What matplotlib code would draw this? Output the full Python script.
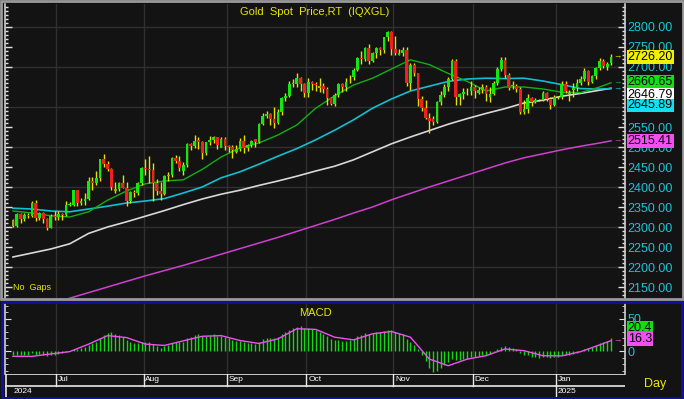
import numpy as np
import pandas as pd
import matplotlib
matplotlib.use("Agg")
import matplotlib.pyplot as plt
from matplotlib.patches import Rectangle

# ============================================================
# Data
# ============================================================

dates = pd.bdate_range("2024-06-13", "2025-01-21")

opens = [
    2318, 2303, 2332, 2319, 2330, 2328, 2360, 2322, 2334, 2319, 2298, 2327,
    2326, 2332, 2330, 2356, 2356, 2392, 2359, 2364, 2371, 2414, 2411, 2422,
    2469, 2458, 2445, 2390, 2396, 2409, 2397, 2364, 2387, 2384, 2410,
    2448, 2446, 2442, 2409, 2390, 2382, 2427, 2431, 2472, 2465, 2440, 2456,
    2507, 2503, 2518, 2512, 2484, 2512, 2518, 2524, 2498, 2521,
    2503, 2500, 2488, 2495, 2516, 2497, 2506, 2520, 2512, 2558, 2578, 2582,
    2569, 2559, 2587, 2622, 2628, 2660, 2657, 2672, 2658,
    2634, 2663, 2657, 2647, 2653, 2644, 2622, 2608, 2630, 2657, 2649, 2675,
    2674, 2693, 2722, 2720, 2748, 2716, 2735, 2747, 2743, 2774, 2788,
    2744, 2730, 2736, 2742, 2659, 2706, 2685, 2619, 2598, 2573, 2570, 2563,
    2612, 2631, 2651, 2670, 2715, 2626, 2633, 2639, 2639,
    2650, 2636, 2643, 2650, 2625, 2633, 2660, 2694, 2718, 2680, 2655, 2652,
    2646, 2588, 2594, 2622, 2612, 2617, 2617, 2634, 2621, 2606,
    2624, 2624, 2658, 2632, 2643, 2648, 2661, 2670, 2690, 2663, 2677, 2697,
    2714, 2700, 2709,
]
highs = [
    2320, 2336, 2334, 2334, 2336, 2365, 2368, 2337, 2337, 2322, 2332, 2339,
    2339, 2336, 2365, 2363, 2393, 2393, 2372, 2385, 2424, 2424, 2440, 2470,
    2483, 2464, 2447, 2412, 2412, 2431, 2413, 2390, 2393, 2412, 2451,
    2470, 2477, 2460, 2420, 2412, 2431, 2437, 2476, 2480, 2477, 2463, 2509,
    2511, 2531, 2526, 2514, 2513, 2527, 2528, 2526, 2524, 2525,
    2504, 2506, 2504, 2523, 2529, 2508, 2517, 2520, 2560, 2586, 2589, 2584,
    2600, 2596, 2625, 2634, 2664, 2670, 2685, 2675, 2660,
    2673, 2665, 2663, 2672, 2660, 2650, 2625, 2634, 2661, 2660, 2673, 2679,
    2697, 2725, 2740, 2749, 2758, 2738, 2750, 2750, 2775, 2790, 2790,
    2777, 2746, 2750, 2750, 2710, 2709, 2686, 2627, 2618, 2584, 2578,
    2615, 2639, 2657, 2674, 2721, 2721, 2636, 2647, 2648, 2665,
    2656, 2650, 2657, 2655, 2651, 2665, 2700, 2726, 2726, 2685, 2664, 2658,
    2651, 2617, 2632, 2626, 2622, 2620, 2639, 2638, 2625, 2630,
    2627, 2664, 2665, 2643, 2660, 2670, 2677, 2697, 2693, 2680, 2701, 2723,
    2720, 2712, 2733,
]
lows = [
    2300, 2300, 2311, 2314, 2323, 2326, 2316, 2318, 2310, 2293, 2297, 2318,
    2318, 2318, 2328, 2353, 2353, 2353, 2355, 2356, 2367, 2393, 2405, 2415,
    2450, 2440, 2393, 2384, 2390, 2398, 2353, 2360, 2376, 2380, 2406,
    2430, 2410, 2364, 2380, 2368, 2380, 2415, 2425, 2460, 2441, 2430, 2450,
    2492, 2497, 2495, 2470, 2480, 2506, 2510, 2495, 2500, 2492,
    2488, 2472, 2485, 2490, 2485, 2490, 2500, 2500, 2510, 2556, 2572, 2556,
    2547, 2557, 2580, 2614, 2625, 2650, 2650, 2640, 2625,
    2624, 2643, 2640, 2637, 2636, 2604, 2604, 2603, 2625, 2638, 2640, 2660,
    2668, 2690, 2708, 2716, 2708, 2712, 2722, 2730, 2736, 2764, 2731,
    2730, 2729, 2728, 2652, 2643, 2677, 2602, 2590, 2570, 2536, 2555,
    2560, 2604, 2625, 2640, 2668, 2605, 2605, 2619, 2630, 2630,
    2622, 2632, 2635, 2615, 2613, 2630, 2655, 2690, 2672, 2643, 2644, 2637,
    2583, 2583, 2584, 2602, 2610, 2615, 2614, 2616, 2596, 2603,
    2620, 2620, 2635, 2615, 2625, 2640, 2655, 2666, 2656, 2661, 2670, 2693,
    2697, 2693, 2705,
]
closes = [
    2303, 2332, 2319, 2330, 2328, 2360, 2322, 2334, 2319, 2298, 2327, 2326,
    2332, 2330, 2356, 2356, 2392, 2359, 2364, 2371, 2414, 2411, 2422, 2469,
    2458, 2445, 2400, 2396, 2409, 2397, 2364, 2387, 2384, 2410, 2447,
    2446, 2442, 2409, 2390, 2382, 2427, 2431, 2472, 2465, 2447, 2456, 2507,
    2503, 2514, 2512, 2484, 2512, 2518, 2524, 2504, 2521, 2503,
    2500, 2493, 2495, 2516, 2497, 2506, 2516, 2512, 2558, 2578, 2582, 2569,
    2559, 2587, 2622, 2628, 2657, 2657, 2672, 2658, 2634,
    2663, 2657, 2656, 2653, 2644, 2622, 2608, 2630, 2657, 2649, 2662, 2674,
    2693, 2722, 2720, 2748, 2716, 2735, 2747, 2743, 2774, 2788, 2744,
    2736, 2736, 2742, 2659, 2706, 2685, 2619, 2598, 2573, 2565, 2563,
    2612, 2631, 2651, 2670, 2715, 2626, 2633, 2638, 2639, 2650,
    2640, 2643, 2650, 2632, 2633, 2660, 2694, 2718, 2680, 2648, 2652, 2646,
    2588, 2594, 2622, 2612, 2617, 2617, 2634, 2621, 2606, 2624,
    2624, 2658, 2640, 2635, 2648, 2661, 2670, 2690, 2663, 2677, 2697, 2714,
    2702, 2708, 2726.2,
]

# moving averages and MACD signal, read once a week (Thursdays) + last day
knot_dates = list(pd.date_range("2024-06-13", "2025-01-16", freq="W-THU")) + [
    pd.Timestamp("2025-01-21")
]
ma_green = [
    2340, 2335, 2328, 2325, 2338, 2367, 2390, 2408, 2415, 2418, 2444, 2475,
    2498, 2510, 2530, 2555, 2597, 2628, 2655, 2672, 2695, 2718, 2706, 2684,
    2664, 2640, 2650, 2650, 2645, 2637, 2636, 2650, 2660.65,
]
ma_cyan = [
    2347, 2345, 2340, 2338, 2345, 2352, 2360, 2365, 2371, 2385, 2400, 2423,
    2438, 2457, 2477, 2496, 2518, 2542, 2568, 2597, 2620, 2640, 2652, 2664,
    2670, 2672, 2671, 2672, 2665, 2656, 2646, 2645, 2645.89,
]
ma_white = [
    2225, 2235, 2245, 2258, 2284, 2300, 2313, 2327, 2341, 2356, 2370, 2382,
    2392, 2404, 2415, 2427, 2440, 2452, 2468, 2488, 2508, 2525, 2541, 2557,
    2571, 2584, 2596, 2610, 2617, 2627, 2634, 2642, 2646.79,
]
ma_magenta = [
    2085, 2097, 2110, 2122, 2136, 2150, 2164, 2178, 2191, 2204, 2218, 2232,
    2246, 2260, 2274, 2289, 2304, 2319, 2335, 2350, 2368, 2384, 2400, 2415,
    2430, 2445, 2460, 2473, 2483, 2493, 2502, 2510, 2515.41,
]
macd_signal = [
    -7.7, -7.7, -4, -0.5, 11, 24, 21, 11, 9, 16, 23, 24,
    16.5, 12, 19, 34.5, 33.5, 21.6, 17.5, 26.8, 30.4, 21.6, -11.8, -22,
    -12, -6.7, 3.6, 1, -6.7, -7, -0.5, 9.8, 16.3,
]

macd = [
    -5, -5, -6, -5, -5, -3, -5, -4, -5, -7, -5, -5, -4,
    -3, -1, 0, 4, 4, 5, 6, 10, 12, 15, 21, 25, 28,
    29, 27, 25, 22, 17, 15, 13, 12, 14,
    15, 15, 11, 8, 5, 8, 9,
    13, 15, 14, 15, 20, 22, 25, 26, 23, 24, 25, 26, 24, 24, 22,
    20, 18, 16, 16, 14, 13, 12, 11,
    15, 19, 21, 21, 20, 22, 27, 29, 33, 35, 37, 38, 35,
    36, 34, 32, 30, 27, 23, 19, 18, 18, 16, 16, 17,
    19, 23, 25, 28, 27, 28, 29, 29, 31, 33, 32, 30, 28, 27,
    19, 15, 10, 4, -5, -15, -25, -32, -30, -25, -21, -17, -12, -14, -13,
    -12, -11, -9,
    -8, -7, -6, -6, -4, -1, 3, 7, 8, 6, 5, 3,
    -2, -5, -6, -8, -9, -10, -9, -9, -10, -9, -8, -5,
    -5, -5, -4, -2, 0, 3, 5, 6, 9, 13, 15, 16, 20.4,
]

MONTHS = ["Jul", "Aug", "Sep", "Oct", "Nov", "Dec", "Jan"]

# ============================================================
# Layout helpers (pixel boxes of the 684 x 399 picture)
# ============================================================

W, H = 684, 399


def box(x0, y0, x1, y1):
    return [x0 / W, 1 - y1 / H, (x1 - x0) / W, (y1 - y0) / H]


BG = "#131313"
GRID = "#303030"
LBL = "#16c6d6"
YEL = "#e8e800"

plt.rcParams["font.family"] = "Liberation Sans"

fig = plt.figure(figsize=(W / 100, H / 100), dpi=100, facecolor=BG)

idx = np.arange(len(dates))
pos = pd.Series(idx, index=dates)
knot_x = pos[knot_dates].values

o = np.array(opens, dtype=float)
h = np.array(highs, dtype=float)
l = np.array(lows, dtype=float)
c = np.array(closes, dtype=float)
prev = np.r_[c[0], c[:-1]]

XLIM = (-2.1, 161.7)

month_starts = [pos[dates[dates.to_period("M") == p][0]]
                for p in pd.period_range("2024-07", "2025-01", freq="M")]

# ============================================================
# Price panel
# ============================================================

ax = fig.add_axes(box(5, 4, 625, 298), facecolor=BG)
ax.set_xlim(*XLIM)
ax.set_ylim(2122.5, 2857.5)

for ms in month_starts:
    ax.axvline(ms - 0.5, color=GRID, lw=1, zorder=0)
for yv in range(2200, 2900, 100):
    ax.axhline(yv, color=GRID, lw=1, zorder=0)

# candles
body_col = []
for i in idx:
    if c[i] >= o[i] and c[i] >= prev[i]:
        body_col.append("#14e614")
    elif c[i] < o[i] and c[i] < prev[i]:
        body_col.append("#f02020")
    else:
        body_col.append("#a8a400")

ax.vlines(idx, l, h, color="#e8e000", lw=1, zorder=2)
bottoms = np.minimum(o, c)
heights = np.maximum(np.abs(c - o), 1.0)
ax.bar(idx, heights, bottom=bottoms, width=0.72, color=body_col,
       linewidth=0, zorder=3)

# moving averages
ax.plot(knot_x, ma_magenta, color="#d040d0", lw=1.1, zorder=1)
ax.plot(knot_x, ma_white, color="#d8d8d8", lw=1.2, zorder=1)
ax.plot(knot_x, ma_cyan, color="#10c0d0", lw=1.2, zorder=1)
ax.plot(knot_x, ma_green, color="#10b010", lw=1.0, zorder=1)

for side in ["top", "bottom"]:
    ax.spines[side].set_visible(False)
for side in ["left", "right"]:
    ax.spines[side].set_color("#d0d0d0")
    ax.spines[side].set_linewidth(1.2)

# price labels hidden behind the last-value boxes are left out
price_ticks = [v for v in range(2150, 2850, 50) if v not in (2600, 2650)]
ax.set_yticks(price_ticks)
ax.set_yticks(range(2130, 2860, 10), minor=True)
ax.tick_params(axis="y", which="both", direction="in", colors="#e0e0e0",
               left=True, right=True, labelleft=False, labelright=True,
               labelcolor=LBL, labelsize=9, pad=2)
ax.tick_params(axis="y", which="major", length=5, width=1)
ax.tick_params(axis="y", which="minor", length=2.5, width=1)
ax.yaxis.set_major_formatter(matplotlib.ticker.FormatStrFormatter("%.2f"))
ax.set_xticks([])

ax.text(0.5, 0.972, "Gold  Spot  Price,RT  (IQXGL)", transform=ax.transAxes,
        ha="center", va="center", color=YEL, fontsize=8)
ax.text(0.013, 0.02, "No  Gaps", transform=ax.transAxes,
        ha="left", va="bottom", color=YEL, fontsize=6.5)

# last value boxes
last_vals = [
    (closes[-1], 2725.5, "#f0f000"),
    (ma_green[-1], 2662, "#10e010"),
    (ma_white[-1], 2631, "#ffffff"),
    (ma_cyan[-1], 2604, "#10e0f0"),
    (ma_magenta[-1], 2515.4, "#f050f0"),
]
for val, ypos, col in last_vals:
    ax.annotate(f"{val:.2f}", xy=(1.0, ypos), xycoords=("axes fraction", "data"),
                xytext=(2, 0), textcoords="offset points", ha="left", va="center",
                fontsize=9, color="black", annotation_clip=False, zorder=10,
                bbox=dict(boxstyle="square,pad=0.06", fc=col, ec="none"))

for val, col in [(closes[-1], YEL), (ma_green[-1], "#10c010"),
                 (ma_cyan[-1], "#10d0e0"), (ma_magenta[-1], "#d040d0")]:
    ax.text(159.6, val, "\u2192", color=col, fontsize=6, ha="center",
            va="center", zorder=6)

# ============================================================
# MACD panel
# ============================================================

mx = fig.add_axes(box(5, 303, 625, 374), facecolor=BG)
mx.set_xlim(*XLIM)
mx.set_ylim(-34.7, 73.9)
for ms in month_starts:
    mx.axvline(ms - 0.5, color=GRID, lw=1, zorder=0)

mx.vlines(idx, 0, macd, color="#14d814", lw=1.0, zorder=2)
mx.plot(knot_x, macd_signal, color="#f050f0", lw=1.0, zorder=3)

for side in ["top", "bottom"]:
    mx.spines[side].set_visible(False)
for side in ["left", "right"]:
    mx.spines[side].set_color("#d0d0d0")
    mx.spines[side].set_linewidth(1.2)
mx.set_yticks([0, 50])
mx.set_yticks(range(-30, 71, 10), minor=True)
mx.tick_params(axis="y", which="both", direction="in", colors="#e0e0e0",
               left=True, right=True, labelleft=False, labelright=True,
               labelcolor=LBL, labelsize=9, pad=2)
mx.tick_params(axis="y", which="major", length=4)
mx.tick_params(axis="y", which="minor", length=2.5)
mx.set_xticks([])

mx.text(0.5, 0.86, "MACD", transform=mx.transAxes, ha="center",
        va="center", color=YEL, fontsize=8)

for val, ypos, col in [(macd[-1], 36, "#10e010"), (macd_signal[-1], 19, "#f050f0")]:
    mx.annotate(f"{val:.1f}", xy=(1.0, ypos), xycoords=("axes fraction", "data"),
                xytext=(2, 0), textcoords="offset points", ha="left", va="center",
                fontsize=9, color="black", annotation_clip=False, zorder=10,
                bbox=dict(boxstyle="square,pad=0.06", fc=col, ec="none"))
mx.text(159.6, macd_signal[-1], "\u2192", color="#f050f0", fontsize=6,
        ha="center", va="center")

# ============================================================
# Date axis
# ============================================================

dx = fig.add_axes(box(5, 374, 625, 397), facecolor=BG)
dx.set_xlim(*XLIM)
dx.set_ylim(0, 2)
dx.axis("off")
dx.axhline(2, color="#e8e8e8", lw=1.2)
dx.axhline(1.0, color="#e8e8e8", lw=1.2)
dx.axvline(XLIM[0] + 0.2, color="#e8e8e8", lw=1.2)
for ms, name in zip(month_starts, MONTHS):
    dx.plot([ms - 0.5, ms - 0.5], [1.0, 2], color="#e8e8e8", lw=1)
    dx.text(ms, 1.5, name, color="white", fontsize=6, ha="left", va="center")
dx.plot([month_starts[-1] - 0.5] * 2, [0, 1.0], color="#e8e8e8", lw=1)
dx.text(XLIM[0] + 2.4, 0.5, "2024", color="white", fontsize=6, ha="left", va="center")
dx.text(month_starts[-1], 0.5, "2025", color="white", fontsize=6, ha="left", va="center")

fig.text(655 / W, 1 - 384 / H, "Day", color=YEL, fontsize=9, ha="center", va="center")

# ============================================================
# Frames
# ============================================================

fig.patches.append(Rectangle((1 / W, 1 - 299 / H), 682 / W, 298 / H,
                             transform=fig.transFigure, fill=False,
                             ec="#9a9a9a", lw=2))
fig.patches.append(Rectangle((2 / W, 1 - 397.5 / H), 680 / W, 95.5 / H,
                             transform=fig.transFigure, fill=False,
                             ec="#1010a0", lw=2))

fig.savefig("out.png", dpi=100, facecolor=BG)
